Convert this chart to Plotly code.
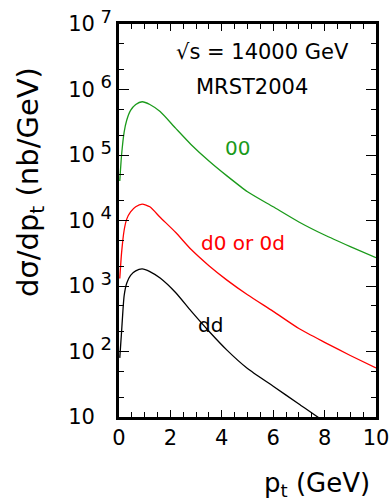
import plotly.graph_objects as go

pt = [0.03, 0.1, 0.2, 0.3, 0.45, 0.65, 0.9, 1.2, 1.6, 2.2, 2.8, 3.5, 4.2, 5.0, 6.0, 7.0, 8.0, 9.0, 10.0]
sig_00 = [4.0e4, 1.0e5, 2.24e5, 3.4e5, 4.8e5, 5.9e5, 6.5e5, 5.9e5, 4.6e5, 2.57e5, 1.45e5, 8.1e4, 4.8e4, 2.75e4, 1.62e4, 9.5e3, 6.0e3, 4.0e3, 2.7e3]
sig_d0 = [1.3e3, 3.2e3, 7.1e3, 1.05e4, 1.35e4, 1.62e4, 1.78e4, 1.62e4, 1.12e4, 6.6e3, 3.63e3, 2.04e3, 1.23e3, 735, 410, 224, 138, 87, 56]
sig_dd = [80, 200, 710, 1.1e3, 1.45e3, 1.7e3, 1.82e3, 1.66e3, 1.32e3, 794, 417, 204, 105, 55, 29.5, 15.8, 8.5, 5.0, 3.0]

series_names = ["00", "d0 or 0d", "dd"]
series_colors = ["#1a9a1a", "#ff0000", "#000000"]

y_tickvals = [10, 1e2, 1e3, 1e4, 1e5, 1e6, 1e7]
y_exps = ["", "2", "3", "4", "5", "6", "7"]

FONT = "DejaVu Sans"
TICK_SIZE = 21


def pow_label(e):
    if not e:
        return "10<span style='font-size:%dpx'>\u00a0\u00a0\u00a0</span>" % (TICK_SIZE - 3)
    return "10<sup><span style='font-size:%dpx'> %s</span></sup>" % (TICK_SIZE - 3, e)


y_ticktext = [pow_label(e) for e in y_exps]

# plot area in page pixels: x 119..376, y 24..417
PL, PR, PT, PB = 119, 376, 24, 417
W, H = 391, 503

fig = go.Figure()
for name, ys, col in zip(series_names, [sig_00, sig_d0, sig_dd], series_colors):
    fig.add_trace(go.Scatter(x=pt, y=ys, mode="lines", name=name,
                             line=dict(color=col, width=1.3, shape="spline", smoothing=0.6),
                             showlegend=False))

fig.update_layout(
    width=W, height=H,
    margin=dict(l=PL, r=W - PR, t=PT, b=H - PB, pad=0, autoexpand=False),
    paper_bgcolor="white", plot_bgcolor="white",
    font=dict(family=FONT, color="black"),
)
fig.update_xaxes(
    range=[0, 10], tickvals=[0, 2, 4, 6, 8, 10], automargin=False,
    ticks="inside", ticklen=7, tickwidth=1, tickcolor="black",
    minor=dict(dtick=0.5, ticks="inside", ticklen=5, tickcolor="black", tickwidth=1),
    showline=True, linewidth=2.5, linecolor="black", mirror="ticks",
    showgrid=False, zeroline=False, ticklabeloverflow="allow",
    tickfont=dict(size=TICK_SIZE, family=FONT),
)
fig.update_yaxes(
    type="log", range=[1, 7], tickvals=y_tickvals, ticktext=y_ticktext, automargin=False,
    ticks="inside", ticklen=10, tickwidth=1, tickcolor="black",
    minor=dict(ticks="inside", ticklen=5, tickcolor="black", tickwidth=1),
    showline=True, linewidth=2.5, linecolor="black", mirror="ticks",
    showgrid=False, zeroline=False, ticklabeloverflow="allow",
    tickfont=dict(size=TICK_SIZE, family=FONT),
)


def px(x):
    return (x - PL) / (PR - PL)


def py(y):
    return (PB - y) / (PB - PT)


ann = [
    dict(text="√s = 14000 GeV", x=262, y=52, size=21, color="black"),
    dict(text="MRST2004", x=252, y=87, size=21, color="black"),
    dict(text="00", x=237, y=148, size=20, color=series_colors[0]),
    dict(text="d0 or 0d", x=243, y=243, size=20, color=series_colors[1]),
    dict(text="dd", x=210, y=325, size=20, color=series_colors[2]),
]
for a in ann:
    fig.add_annotation(text=a["text"], xref="paper", yref="paper",
                       x=px(a["x"]), y=py(a["y"]),
                       xanchor="center", yanchor="middle", showarrow=False,
                       font=dict(size=a["size"], color=a["color"], family=FONT))

fig.add_annotation(text="p<sub>t</sub> (GeV)", xref="paper", yref="paper",
                   x=px(372), y=py(484), xanchor="right", yanchor="middle",
                   showarrow=False, font=dict(size=26, family=FONT))
fig.add_annotation(text="dσ/dp<sub>t</sub> (nb/GeV)", xref="paper", yref="paper",
                   x=px(30), y=py(182), xanchor="center", yanchor="middle",
                   textangle=-90, showarrow=False, font=dict(size=29, family=FONT))

fig.write_html("out.html", config={"displayModeBar": False},
               post_script="document.body.style.margin='0';document.body.style.padding='0';")
